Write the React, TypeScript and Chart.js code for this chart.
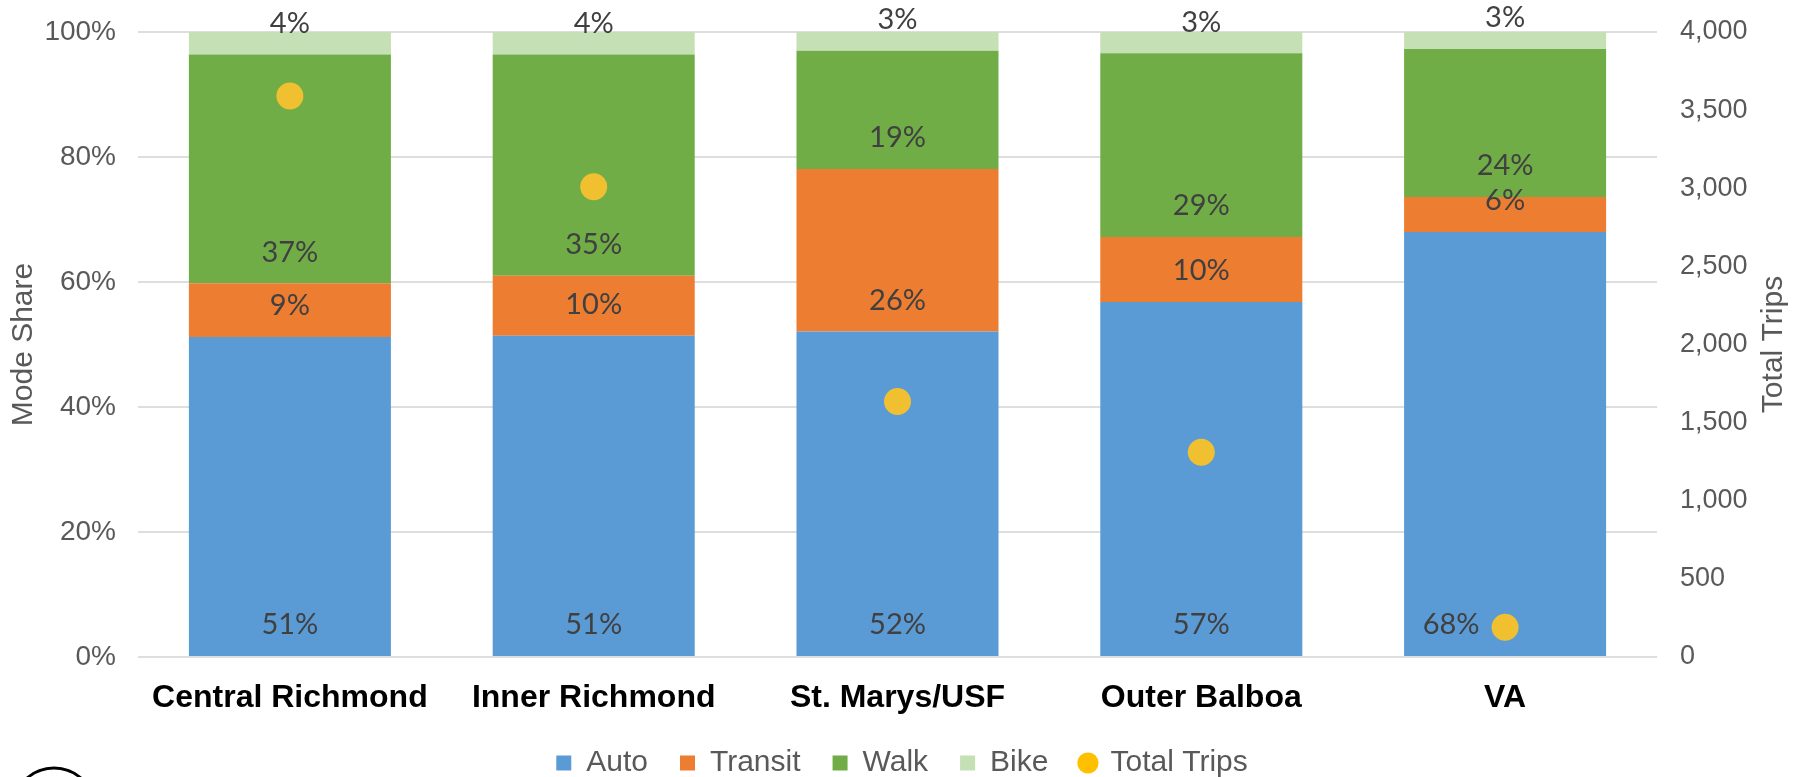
import React, { useEffect, useRef } from 'react';
import { Chart, registerables } from 'chart.js';

Chart.register(...registerables);

// ---- Data ----
const categories = ['Central Richmond', 'Inner Richmond', 'St. Marys/USF', 'Outer Balboa', 'VA'];
const autoShare = [51.2, 51.4, 52.1, 56.8, 68.0];
const transitShare = [8.6, 9.6, 26.0, 10.4, 5.6];
const walkShare = [36.6, 35.4, 18.9, 29.4, 23.7];
const bikeShare = [3.6, 3.6, 3.0, 3.4, 2.7];
const totalTrips = [3590, 3010, 1635, 1310, 190];

const seriesNames = ['Auto', 'Transit', 'Walk', 'Bike', 'Total Trips'];
const seriesColors = ['#5B9BD5', '#ED7D31', '#70AD47', '#C5E0B4', '#F0C030'];
const legendColors = ['#5B9BD5', '#ED7D31', '#70AD47', '#C5E0B4', '#FFC000'];

const SANS = '"Liberation Sans", Arial, sans-serif';
const LABEL_FONT = '29px Lato, "Open Sans", sans-serif';
const GREY = '#595959';

const segmentLabels = {
  id: 'segmentLabels',
  afterDatasetsDraw(chart: any) {
    const ctx = chart.ctx;
    ctx.save();
    ctx.font = LABEL_FONT;
    ctx.fillStyle = '#404040';
    ctx.textAlign = 'center';
    ctx.textBaseline = 'middle';
    const pointMeta = chart.getDatasetMeta(4);
    for (let d = 0; d < 4; d++) {
      const meta = chart.getDatasetMeta(d);
      const values = chart.data.datasets[d].data as number[];
      meta.data.forEach((el: any, i: number) => {
        const txt = Math.round(values[i]) + '%';
        const w = ctx.measureText(txt).width;
        let x = el.x;
        const y = el.base - 31;
        const pt = pointMeta.data[i];
        const r = 13.5;
        if (pt && Math.abs(pt.y - y) < 22 && Math.abs(pt.x - x) < w / 2 + r) {
          x = pt.x - r - 12 - w / 2;
        }
        ctx.fillText(txt, x, y);
      });
    }
    ctx.restore();
  },
  afterDraw(chart: any) {
    const ctx = chart.ctx;
    const area = chart.chartArea;
    ctx.save();
    // right axis title, reading bottom-to-top
    ctx.translate(1774, (area.top + area.bottom) / 2);
    ctx.rotate(-Math.PI / 2);
    ctx.font = '30px ' + SANS;
    ctx.fillStyle = GREY;
    ctx.textAlign = 'center';
    ctx.textBaseline = 'middle';
    ctx.fillText('Total Trips', 0, 0);
    ctx.restore();
    // cut-off circle glyph at bottom-left corner
    ctx.save();
    ctx.beginPath();
    ctx.arc(54, 809, 41, 0, Math.PI * 2);
    ctx.lineWidth = 3;
    ctx.strokeStyle = '#000';
    ctx.stroke();
    ctx.restore();
  },
};

export default function App() {
  const ref = useRef<HTMLCanvasElement | null>(null);

  useEffect(() => {
    let chart: Chart | null = null;
    let cancelled = false;
    const build = () => {
      if (cancelled || !ref.current) return;
      const barDs = [autoShare, transitShare, walkShare, bikeShare].map((vals, i) => ({
        type: 'bar' as const,
        label: seriesNames[i],
        data: vals,
        backgroundColor: seriesColors[i],
        borderWidth: 0,
        yAxisID: 'y',
        order: 1,
        barPercentage: 0.665,
        categoryPercentage: 1,
      }));
      chart = new Chart(ref.current, {
        data: {
          labels: categories,
          datasets: [
            ...barDs,
            {
              type: 'line' as const,
              label: seriesNames[4],
              data: totalTrips,
              yAxisID: 'y1',
              showLine: false,
              order: 0,
              pointRadius: 13.5,
              pointHoverRadius: 13.5,
              pointBackgroundColor: seriesColors[4],
              pointBorderWidth: 0,
              backgroundColor: seriesColors[4],
              borderColor: seriesColors[4],
            },
          ],
        } as any,
        options: {
          responsive: false,
          animation: false,
          devicePixelRatio: 1,
          layout: { padding: { left: 0, right: 0, top: 32, bottom: -11 } },
          plugins: {
            tooltip: { enabled: false },
            legend: {
              position: 'bottom',
              labels: {
                usePointStyle: true,
                boxWidth: 15,
                boxHeight: 15,
                padding: 32,
                color: GREY,
                font: { family: SANS, size: 30 },
                generateLabels: (c: any) =>
                  c.data.datasets.map((ds: any, i: number) => ({
                    text: ds.label,
                    fillStyle: legendColors[i],
                    strokeStyle: legendColors[i],
                    lineWidth: 0,
                    pointStyle: i === 4 ? 'circle' : 'rect',
                    hidden: false,
                    datasetIndex: i,
                    fontColor: GREY,
                  })),
              },
            },
          },
          scales: {
            x: {
              stacked: true,
              grid: { display: false, drawTicks: false },
              border: { display: false },
              ticks: {
                color: '#000',
                padding: 22,
                maxRotation: 0,
                font: { family: SANS, size: 32, weight: 'bold' },
              },
              afterFit: (s: any) => {
                s.height = 59;
              },
            },
            y: {
              stacked: true,
              position: 'left',
              min: 0,
              max: 100,
              grid: {
                color: '#dedede',
                lineWidth: 2,
                drawTicks: true,
                tickLength: 22,
                tickColor: 'rgba(0,0,0,0)',
              },
              border: { display: false },
              ticks: {
                stepSize: 20,
                padding: 0,
                color: GREY,
                font: { family: SANS, size: 28 },
                callback: (v: any) => v + '%',
              },
              title: {
                display: true,
                text: 'Mode Share',
                color: GREY,
                font: { family: SANS, size: 30 },
                padding: { top: 6, bottom: 0 },
              },
              afterFit: (s: any) => {
                s.width = 138;
              },
            },
            y1: {
              position: 'right',
              min: 0,
              max: 4000,
              grid: {
                drawOnChartArea: false,
                drawTicks: true,
                tickLength: 23,
                tickColor: 'rgba(0,0,0,0)',
              },
              border: { display: false },
              ticks: {
                stepSize: 500,
                padding: 0,
                color: GREY,
                font: { family: SANS, size: 27 },
                callback: (v: any) => Number(v).toLocaleString('en-US'),
              },
              afterFit: (s: any) => {
                s.width = 147;
              },
            },
          },
        } as any,
        plugins: [segmentLabels],
      });
    };
    const fontsToLoad = ['29px Lato', '26px "Liberation Sans"', 'bold 32px "Liberation Sans"'];
    Promise.all(fontsToLoad.map((f) => document.fonts.load(f).catch(() => null)))
      .then(build, build);
    return () => {
      cancelled = true;
      if (chart) chart.destroy();
    };
  }, []);

  return (
    <div style={{ position: 'fixed', left: 0, top: 0, width: 1804, height: 777, background: '#fff' }}>
      <canvas ref={ref} width={1804} height={777} style={{ width: 1804, height: 777, display: 'block' }} />
    </div>
  );
}
